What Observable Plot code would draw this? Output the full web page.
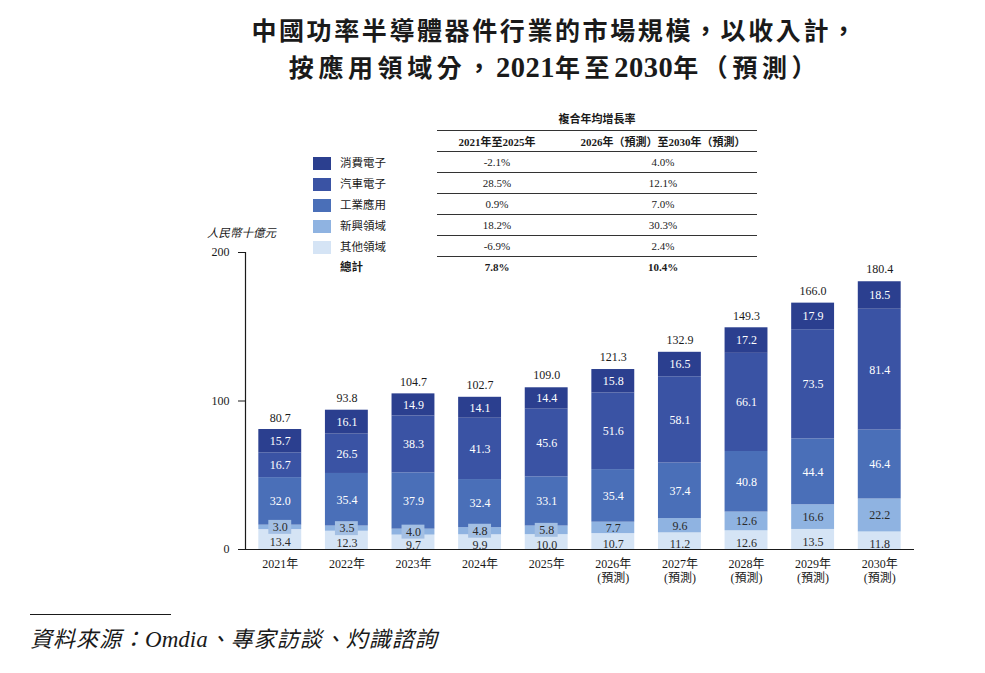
<!DOCTYPE html>
<html>
<head>
<meta charset="utf-8">
<script src="https://cdn.jsdelivr.net/npm/d3@7"></script>
<script src="https://cdn.jsdelivr.net/npm/@observablehq/plot@0.6"></script>
<style>
  body { margin: 0; background: #fff; }
  #page {
    position: relative; width: 985px; height: 673px; overflow: hidden;
    font-family: "Liberation Serif", "Noto Sans CJK TC", serif; color: #1a1a1a;
  }
  #title {
    position: absolute; top: 14px; left: 0; width: 1110px; text-align: center;
    font-size: 25px; font-weight: bold; line-height: 36px; letter-spacing: 2.6px;
  }
  #title .line2 { letter-spacing: 4.6px; }
  #title .num { font-size: 28.5px; letter-spacing: 0.5px; }
  #cagr-title {
    position: absolute; top: 110px; left: 437px; width: 320px; text-align: center;
    font-size: 11px; font-weight: bold;
  }
  #cagr {
    position: absolute; top: 130px; left: 313px; border-collapse: collapse;
    font-size: 11px;
  }
  #cagr td { height: 20px; padding: 0; text-align: center; vertical-align: middle; }
  #cagr td.key { width: 124px; text-align: left; font-size: 11.5px; }
  #cagr td.c1 { width: 120px; border-top: 1.3px solid #333; }
  #cagr td.c2 { width: 188px; padding-left: 12px; border-top: 1.3px solid #333; }
  #cagr tr.head td { font-weight: bold; }
  #cagr tr.total td { font-weight: bold; }
  .sw { display: inline-block; width: 18px; height: 13px; vertical-align: middle; margin-right: 9px; }
  #unit {
    position: absolute; top: 224px; left: 207px; font-size: 11.5px; font-style: italic;
  }
  #chart { position: absolute; top: 230px; left: 0; }
  #src-rule { position: absolute; top: 614px; left: 30px; width: 141px; border-top: 1px solid #1a1a1a; }
  #source {
    position: absolute; top: 621px; left: 30px; font-size: 22px; font-style: italic; letter-spacing: 1px;
  }
  #source .latin { letter-spacing: 0; font-size: 23px; }
</style>
</head>
<body>
<div id="page">
  <div id="title">中國功率半導體器件行業的市場規模，以收入計，<br><span class="line2">按應用領域分，<span class="num">2021</span>年至<span class="num">2030</span>年（預測）</span></div>
  <div id="cagr-title">複合年均增長率</div>
  <table id="cagr"></table>
  <div id="unit">人民幣十億元</div>
  <div id="chart"></div>
  <div id="src-rule"></div>
  <div id="source">資料來源：<span class="latin">Omdia</span>、專家訪談、灼識諮詢</div>
</div>
<script>
// Years on the x axis; 2026 onwards are forecasts
const years = [2021, 2022, 2023, 2024, 2025, 2026, 2027, 2028, 2029, 2030];
const forecastFrom = 2026;

// Application segments, bottom of the stack first
const categories = ["其他領域", "新興領域", "工業應用", "汽車電子", "消費電子"];
const colors = ["#d5e4f5", "#8fb3e1", "#4a6fb8", "#3a53a4", "#2b3f8f"];

// Revenue by segment, RMB billion
const otherFields = [13.4, 12.3, 9.7, 9.9, 10.0, 10.7, 11.2, 12.6, 13.5, 11.8];
const emergingFields = [3.0, 3.5, 4.0, 4.8, 5.8, 7.7, 9.6, 12.6, 16.6, 22.2];
const industrial = [32.0, 35.4, 37.9, 32.4, 33.1, 35.4, 37.4, 40.8, 44.4, 46.4];
const automotive = [16.7, 26.5, 38.3, 41.3, 45.6, 51.6, 58.1, 66.1, 73.5, 81.4];
const consumer = [15.7, 16.1, 14.9, 14.1, 14.4, 15.8, 16.5, 17.2, 17.9, 18.5];
const totals = [80.7, 93.8, 104.7, 102.7, 109.0, 121.3, 132.9, 149.3, 166.0, 180.4];

// CAGR table (legend order: top of stack first)
const legendOrder = ["消費電子", "汽車電子", "工業應用", "新興領域", "其他領域"];
const cagrHeads = ["2021年至2025年", "2026年（預測）至2030年（預測）"];
const cagr2125 = ["-2.1%", "28.5%", "0.9%", "18.2%", "-6.9%"];
const cagr2630 = ["4.0%", "12.1%", "7.0%", "30.3%", "2.4%"];
const totalLabel = "總計";
const cagrTotal = ["7.8%", "10.4%"];

const yTicks = [0, 100, 200];

// ---- CAGR table with the colour key ----
const colorOf = Object.fromEntries(categories.map((c, i) => [c, colors[i]]));
const table = document.getElementById("cagr");
let html = `<tr class="head"><td class="key"></td><td class="c1">${cagrHeads[0]}</td><td class="c2">${cagrHeads[1]}</td></tr>`;
legendOrder.forEach((c, i) => {
  html += `<tr><td class="key"><span class="sw" style="background:${colorOf[c]}"></span>${c}</td>` +
          `<td class="c1">${cagr2125[i]}</td><td class="c2">${cagr2630[i]}</td></tr>`;
});
html += `<tr class="total"><td class="key"><span class="sw"></span>${totalLabel}</td>` +
        `<td class="c1">${cagrTotal[0]}</td><td class="c2">${cagrTotal[1]}</td></tr>`;
table.innerHTML = html;

// ---- Stacked bars ----
const series = [otherFields, emergingFields, industrial, automotive, consumer];
const rows = [];
years.forEach((year, i) => {
  categories.forEach((category, k) => rows.push({year, category, value: series[k][i]}));
});
const lightSegments = new Set(["其他領域", "新興領域"]);
const bottom = categories[0];

// Thin emerging segments get a tinted box behind their label
const boxHalf = 4.7;
const boxed = years
  .map((year, i) => ({year, mid: otherFields[i] + emergingFields[i] / 2, value: emergingFields[i]}))
  .filter(d => d.value < 6);

const totalRows = years.map((year, i) => ({year, total: totals[i]}));

const segmentLabel = (keep, dy) => Plot.text(rows, Plot.stackY({
  x: "year", y: "value", z: "category",
  text: d => keep(d) ? d.value.toFixed(1) : null,
  fill: d => lightSegments.has(d.category) ? "#2a2a2a" : "#ffffff",
  dy,
  fontSize: 12
}));

const chart = Plot.plot({
  width: 985,
  height: 370,
  marginTop: 22,
  marginBottom: 51,
  marginLeft: 245,
  marginRight: 71,
  style: {fontFamily: '"Liberation Serif", "Noto Sans CJK TC", serif', fontSize: "12px", color: "#1a1a1a", background: "transparent"},
  x: {domain: years, paddingInner: 0.356, paddingOuter: 0.2, round: false, label: null},
  y: {domain: [0, 200], label: null},
  color: {domain: categories, range: colors},
  marks: [
    Plot.barY(rows, {x: "year", y: "value", fill: "category"}),
    Plot.barY(boxed, {x: "year", y1: d => d.mid - boxHalf, y2: d => d.mid + boxHalf, insetLeft: 10, insetRight: 10, fill: "#a3bfe3"}),
    // segment values; the bottom segment's labels sit a little low
    segmentLabel(d => d.category !== bottom, 0),
    segmentLabel(d => d.category === bottom, 3),
    Plot.text(totalRows, {x: "year", y: "total", text: d => d.total.toFixed(1), dy: -12, fill: "#1a1a1a", fontSize: 12}),
    Plot.ruleY([0], {stroke: "#1a1a1a", strokeWidth: 1.2}),
    Plot.frame({anchor: "left", stroke: "#1a1a1a", strokeWidth: 1.2}),
    Plot.axisY({ticks: yTicks, tickSize: 7, tickPadding: 9, label: null, fontSize: 12}),
    Plot.axisX({
      tickSize: 0, tickPadding: 9, label: null, fontSize: 12, lineHeight: 1.15,
      tickFormat: d => d >= forecastFrom ? `${d}年\n(預測)` : `${d}年`
    })
  ]
});
document.getElementById("chart").appendChild(chart);
</script>
</body>
</html>
